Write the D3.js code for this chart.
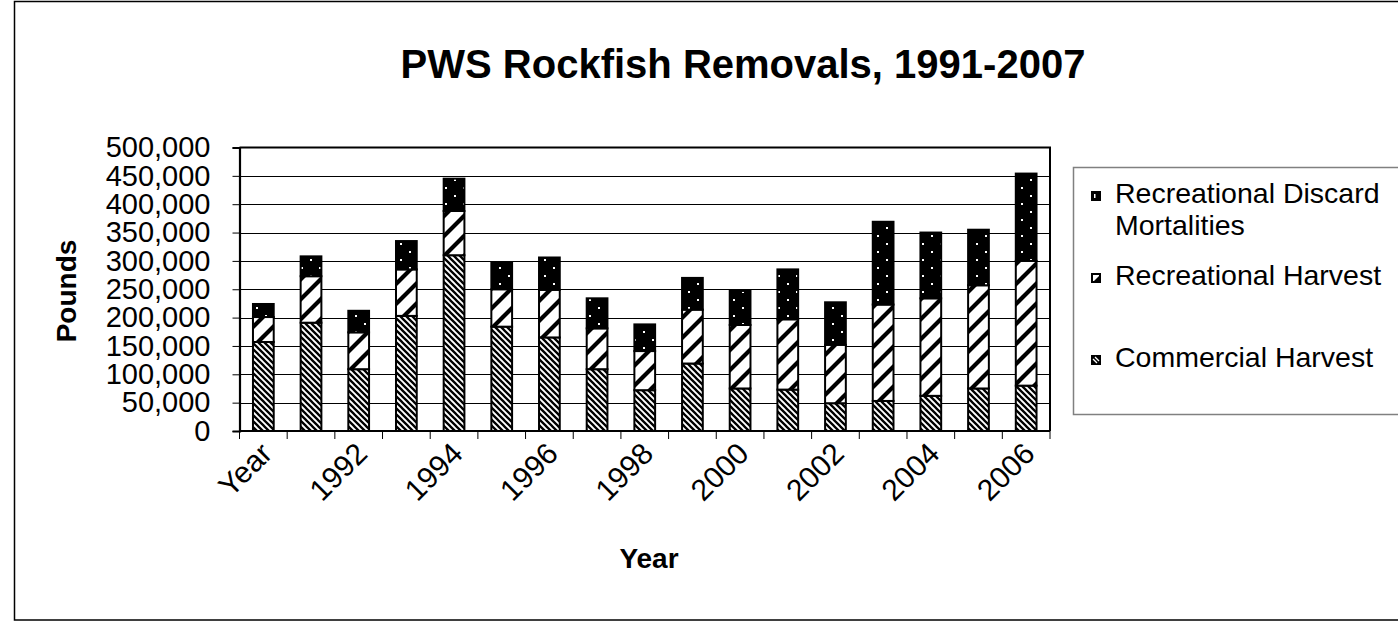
<!DOCTYPE html>
<html>
<head>
<meta charset="utf-8">
<script src="https://cdn.jsdelivr.net/npm/d3@7"></script>
<style>
  body { margin: 0; background: #fff; }
  text { font-family: "Liberation Sans", Arial, sans-serif; fill: #000; }
</style>
</head>
<body>
<script>
// Categories along the x axis (first slot carries the "Year" header label)
const categories = ["Year", "1991", "1992", "1993", "1994", "1995", "1996", "1997", "1998",
  "1999", "2000", "2001", "2002", "2003", "2004", "2005", "2006"];

// Removals in pounds, stacked bottom to top
const commercialHarvest = [157000, 191000, 109000, 203000, 310000, 184000, 165000, 109000, 72000,
  119000, 75000, 73000, 49000, 53000, 62000, 75000, 80000];
const recreationalHarvest = [44000, 82000, 65000, 82000, 78000, 66000, 84000, 72000, 69000,
  95000, 112000, 124000, 103000, 170000, 172000, 182000, 220000];
const discardMortalities = [23000, 35000, 38000, 50000, 57000, 48000, 57000, 53000, 47000,
  56000, 60000, 88000, 75000, 146000, 116000, 98000, 154000];

const seriesNames = ["Commercial Harvest", "Recreational Harvest", "Recreational Discard Mortalities"];
const yTicks = [0, 50000, 100000, 150000, 200000, 250000, 300000, 350000, 400000, 450000, 500000];

const W = 1398, H = 621;
const plot = { left: 239.5, right: 1050, top: 147.5, bottom: 431 };

const svg = d3.select("body").append("svg").attr("width", W).attr("height", H);

// Fill patterns for the three series
const defs = svg.append("defs");
const pComm = defs.append("pattern").attr("id", "pat-comm")
  .attr("patternUnits", "userSpaceOnUse").attr("width", 6).attr("height", 6);
pComm.append("rect").attr("width", 6).attr("height", 6).attr("fill", "#fff");
pComm.append("path").attr("d", "M-1,-1 L7,7 M-1,5 L1,7 M5,-1 L7,1")
  .attr("stroke", "#000").attr("stroke-width", 2.3);

const pRec = defs.append("pattern").attr("id", "pat-rec")
  .attr("patternUnits", "userSpaceOnUse").attr("width", 20).attr("height", 20);
pRec.append("rect").attr("width", 20).attr("height", 20).attr("fill", "#fff");
pRec.append("path").attr("d", "M-2,22 L22,-2 M-5,5 L5,-5 M15,25 L25,15")
  .attr("stroke", "#000").attr("stroke-width", 4.2);

const pDis = defs.append("pattern").attr("id", "pat-dis")
  .attr("patternUnits", "userSpaceOnUse").attr("width", 18).attr("height", 16);
pDis.append("rect").attr("width", 18).attr("height", 16).attr("fill", "#000");
pDis.append("rect").attr("x", 4).attr("y", 3).attr("width", 2).attr("height", 2).attr("fill", "#fff");
pDis.append("rect").attr("x", 13).attr("y", 11).attr("width", 2).attr("height", 2).attr("fill", "#fff");

const fills = ["url(#pat-comm)", "url(#pat-rec)", "url(#pat-dis)"];

// Outer chart border
svg.append("rect").attr("x", 14.5).attr("y", 1.5).attr("width", W).attr("height", H - 2.5)
  .attr("fill", "none").attr("stroke", "#000").attr("stroke-width", 1.5);

// Scales
const x = d3.scaleBand().domain(categories).range([plot.left, plot.right])
  .paddingInner(0.565).paddingOuter(0.2825);
const y = d3.scaleLinear().domain([0, 500000]).range([plot.bottom, plot.top]);

// Gridlines
svg.append("g").selectAll("line").data(yTicks.slice(1, -1)).join("line")
  .attr("x1", plot.left).attr("x2", plot.right)
  .attr("y1", d => Math.round(y(d)) + 0.5).attr("y2", d => Math.round(y(d)) + 0.5)
  .attr("stroke", "#000").attr("stroke-width", 1);

// Plot area top and right edges
svg.append("path")
  .attr("d", `M${plot.left},${y(500000)} H${plot.right} V${plot.bottom}`)
  .attr("fill", "none").attr("stroke", "#000").attr("stroke-width", 2);

// Stacked bars
const rows = categories.map((c, i) => ({
  cat: c,
  v: [commercialHarvest[i], recreationalHarvest[i], discardMortalities[i]]
}));
const keys = [0, 1, 2];
const stacked = d3.stack().keys(keys).value((d, k) => d.v[k])(rows);

svg.append("g").selectAll("g").data(stacked).join("g")
  .attr("fill", (d, i) => fills[i])
  .selectAll("rect").data(d => d).join("rect")
  .attr("x", d => x(d.data.cat))
  .attr("width", x.bandwidth())
  .attr("y", d => y(d[1]))
  .attr("height", d => y(d[0]) - y(d[1]))
  .attr("stroke", "#000").attr("stroke-width", 2);

// Y axis
const yAxis = svg.append("g").attr("transform", `translate(${plot.left},0)`)
  .call(d3.axisLeft(y).tickValues(yTicks).tickSize(7).tickPadding(22)
    .tickFormat(d3.format(",")));
yAxis.select(".domain").attr("stroke", "#000").attr("stroke-width", 2.2);
yAxis.selectAll(".tick line").attr("stroke", "#000").attr("stroke-width", 1);
yAxis.selectAll("text").attr("font-size", 29).attr("font-family", "Liberation Sans, Arial, sans-serif");

// X axis: baseline, boundary ticks, rotated labels
svg.append("line").attr("x1", plot.left).attr("x2", plot.right)
  .attr("y1", plot.bottom).attr("y2", plot.bottom)
  .attr("stroke", "#000").attr("stroke-width", 2.2);
const bounds = d3.range(categories.length + 1).map(k => plot.left + k * x.step());
svg.append("g").selectAll("line").data(bounds).join("line")
  .attr("x1", d => d).attr("x2", d => d)
  .attr("y1", plot.bottom).attr("y2", plot.bottom + 8)
  .attr("stroke", "#000").attr("stroke-width", 1);

svg.append("g").selectAll("text").data(categories.filter((d, i) => i % 2 === 0)).join("text")
  .attr("transform", d => `translate(${x(d) + x.bandwidth() / 2 + 3},${plot.bottom + 17}) rotate(-45)`)
  .attr("text-anchor", "end")
  .attr("dy", "0.35em")
  .attr("font-size", 30)
  .text(d => d);

// Titles
svg.append("text").attr("x", 743).attr("y", 78).attr("text-anchor", "middle")
  .attr("font-size", 40).attr("font-weight", "bold").text("PWS Rockfish Removals, 1991-2007");
svg.append("text").attr("x", 649).attr("y", 568).attr("text-anchor", "middle")
  .attr("font-size", 28).attr("font-weight", "bold").text("Year");
svg.append("text").attr("transform", "translate(76,291) rotate(-90)").attr("text-anchor", "middle")
  .attr("font-size", 28).attr("font-weight", "bold").text("Pounds");

// Legend
const lg = svg.append("g");
lg.append("rect").attr("x", 1073.5).attr("y", 167.5).attr("width", 340).attr("height", 247)
  .attr("fill", "#fff").attr("stroke", "#808080").attr("stroke-width", 1.5);
const legendItems = [
  { key: 2, lines: ["Recreational Discard", "Mortalities"], base: 203 },
  { key: 1, lines: ["Recreational Harvest"], base: 285 },
  { key: 0, lines: ["Commercial Harvest"], base: 367 }
];
legendItems.forEach(it => {
  const sx = 1091, sy = it.base - 12, s = 10;
  const sw = lg.append("g");
  if (it.key === 2) {
    sw.append("rect").attr("x", sx).attr("y", sy).attr("width", s).attr("height", s).attr("fill", "#000");
    sw.append("rect").attr("x", sx + 3).attr("y", sy + 3).attr("width", 1.5).attr("height", 4).attr("fill", "#fff");
  } else if (it.key === 1) {
    sw.append("rect").attr("x", sx).attr("y", sy).attr("width", s).attr("height", s).attr("fill", "#000");
    sw.append("rect").attr("x", sx + 2).attr("y", sy + 2).attr("width", s - 4).attr("height", s - 4).attr("fill", "#fff");
    sw.append("path").attr("d", `M${sx + s - 2},${sy + 3} L${sx + s - 2},${sy + s - 2} L${sx + 3},${sy + s - 2} Z`).attr("fill", "#000");
  } else {
    sw.append("rect").attr("x", sx).attr("y", sy).attr("width", s).attr("height", s).attr("fill", "#000");
    sw.append("path").attr("d", `M${sx + 2},${sy + 4} L${sx + 6},${sy + 8} M${sx + 4},${sy + 2} L${sx + 8},${sy + 6}`)
      .attr("stroke", "#fff").attr("stroke-width", 1.3);
  }
  const t = lg.append("text").attr("x", 1115).attr("y", it.base).attr("font-size", 28.5);
  it.lines.forEach((ln, j) => t.append("tspan").attr("x", 1115).attr("dy", j === 0 ? 0 : 32).text(ln));
});
</script>
</body>
</html>
